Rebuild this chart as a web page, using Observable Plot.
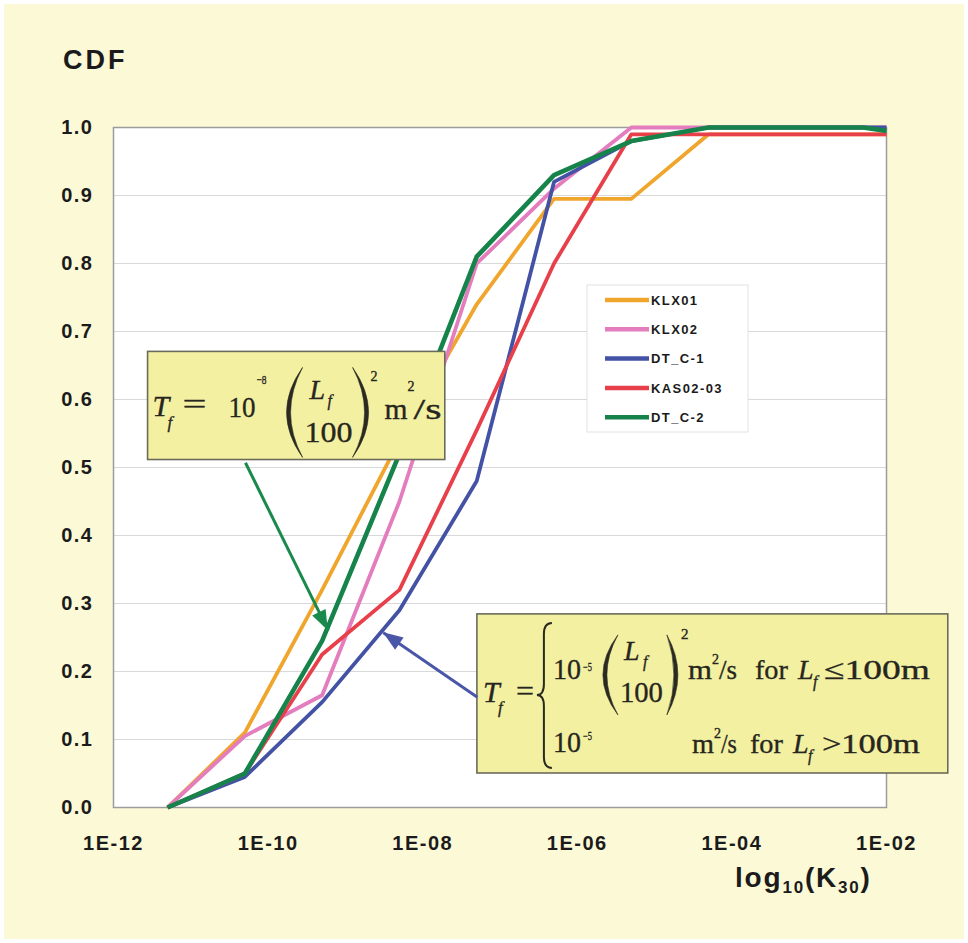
<!DOCTYPE html>
<html>
<head>
<meta charset="utf-8">
<script src="https://cdn.jsdelivr.net/npm/d3@7"></script>
<script src="https://cdn.jsdelivr.net/npm/@observablehq/plot@0.6"></script>
<style>
  html, body { margin: 0; padding: 0; background: #ffffff; }
  #wrap { position: relative; width: 968px; height: 943px; overflow: hidden; background: #ffffff; }
  #bg { position: absolute; left: 4px; top: 4px; width: 960px; height: 935px; background: #fcf9d7; }
  #chart { position: absolute; left: 0; top: 0; }
</style>
</head>
<body>
<div id="wrap"><div id="bg"></div><div id="chart"></div></div>
<script>
// ---------------- data ----------------
const kValues = [5e-12, 5e-11, 5e-10, 5e-9, 5e-8, 5e-7, 5e-6, 5e-5, 5e-4, 5e-3, 1e-2];
const seriesNames = ["KLX01", "KLX02", "DT_C-1", "KAS02-03", "DT_C-2"];
const seriesColors = ["#f0a62c", "#e37dbd", "#4352a4", "#e8404b", "#16834a"];
const seriesWidths = [3.8, 3.8, 3.8, 3.8, 4.6];
const klx01   = [0, 0.110, 0.320, 0.540, 0.740, 0.895, 0.895, 0.990, 0.990, 0.990, 0.990];
const klx02   = [0, 0.105, 0.165, 0.450, 0.800, 0.910, 1.000, 1.000, 1.000, 1.000, 1.000];
const dtc1    = [0, 0.045, 0.155, 0.290, 0.480, 0.920, 0.980, 1.000, 1.000, 1.000, 1.000];
const kas0203 = [0, 0.050, 0.225, 0.320, 0.555, 0.800, 0.990, 0.990, 0.990, 0.990, 0.990];
const dtc2    = [0, 0.050, 0.245, 0.520, 0.810, 0.930, 0.980, 1.000, 1.000, 1.000, 0.995];
const seriesValues = [klx01, klx02, dtc1, kas0203, dtc2];

const yTicks = [0, 0.1, 0.2, 0.3, 0.4, 0.5, 0.6, 0.7, 0.8, 0.9, 1.0];
const xTicks = [1e-12, 1e-10, 1e-8, 1e-6, 1e-4, 1e-2];
const xTickLabels = ["1E-12", "1E-10", "1E-08", "1E-06", "1E-04", "1E-02"];

const yTitle = "CDF";

// annotation boxes (data coordinates)
const boxX1 = [2.8e-12, 5.1e-8];
const boxX2 = [1.96e-8, 6.3e-2];
const boxY1 = [0.511, 0.050];
const boxY2 = [0.670, 0.284];

// annotation arrows (data coordinates)
const arrowFromX = [5.1e-11, 5.1e-8];
const arrowFromY = [0.507, 0.162];
const arrowToX = [6.0e-10, 3.1e-9];
const arrowToY = [0.260, 0.257];
const arrowColors = ["#1a8a4c", "#4a56a8"];

// ---------------- tables ----------------
const rows = seriesNames.flatMap((s, i) =>
  kValues.map((k, j) => ({series: s, k, cdf: seriesValues[i][j]})));
const boxes = boxX1.map((_, i) => ({x1: boxX1[i], x2: boxX2[i], y1: boxY1[i], y2: boxY2[i]}));
const arrows = arrowFromX.map((_, i) => ({x1: arrowFromX[i], y1: arrowFromY[i], x2: arrowToX[i], y2: arrowToY[i], c: arrowColors[i]}));

const W = 968, H = 943;

const chart = Plot.plot({
  width: W, height: H,
  marginLeft: 113, marginRight: 82, marginTop: 127, marginBottom: 136,
  style: {background: "transparent", overflow: "visible", fontFamily: "'Liberation Sans', Arial, sans-serif", letterSpacing: "1.5px", color: "#1b1b1b"},
  x: {type: "log", domain: [1e-12, 1e-2]},
  y: {domain: [0, 1]},
  color: {domain: seriesNames, range: seriesColors},
  marks: [
    Plot.frame({fill: "#ffffff", stroke: null}),
    Plot.gridY(yTicks.filter(d => d > 0 && d < 1), {stroke: "#d9d9d9", strokeOpacity: 1, strokeWidth: 1.2}),
    Plot.frame({stroke: "#9c9c9c", strokeWidth: 1.5}),
    Plot.axisY(yTicks, {tickSize: 0, tickPadding: 20, tickFormat: d => d.toFixed(1), fontSize: 20, fontWeight: "bold", label: null}),
    Plot.axisX(xTicks, {tickSize: 0, tickPadding: 28, tickFormat: d => xTickLabels[xTicks.indexOf(d)], fontSize: 20, fontWeight: "bold", label: null}),
    ...seriesNames.map((s, i) =>
      Plot.line(rows.filter(r => r.series === s), {x: "k", y: "cdf", stroke: "series", strokeWidth: seriesWidths[i], strokeLinejoin: "round", strokeLinecap: "butt"})),
    Plot.rect(boxes, {x1: "x1", x2: "x2", y1: "y1", y2: "y2", fill: "#f3f0a2", stroke: "#6b6b5c", strokeWidth: 1.6}),
    Plot.link(arrows, {x1: "x1", y1: "y1", x2: "x2", y2: "y2", stroke: "c", strokeWidth: 3})
  ]
});
document.getElementById("chart").appendChild(chart);

const svg = d3.select(chart);
const xs = chart.scale("x"), ys = chart.scale("y");
const px = v => xs.apply(v), py = v => ys.apply(v);

// filled arrow heads
arrows.forEach(a => {
  const x1 = px(a.x1), y1 = py(a.y1), x2 = px(a.x2), y2 = py(a.y2);
  const ang = Math.atan2(y2 - y1, x2 - x1);
  const L = 20, Wd = 7.5;
  const bx = x2 - L * Math.cos(ang), by = y2 - L * Math.sin(ang);
  const nx = -Math.sin(ang), ny = Math.cos(ang);
  svg.append("path")
    .attr("d", `M${x2},${y2}L${bx + nx * Wd},${by + ny * Wd}L${bx - nx * Wd},${by - ny * Wd}Z`)
    .attr("fill", a.c);
});

// titles
const tg = svg.append("g").attr("text-anchor", "start").attr("font-family", "'Liberation Sans', Arial, sans-serif").attr("font-weight", "bold").attr("fill", "#1b1b1b");
tg.append("text").attr("x", 63).attr("y", 69).attr("font-size", 27).style("letter-spacing", "3px").text(yTitle);
const xl = tg.append("text").attr("x", 735).attr("y", 887).attr("font-size", 28).style("letter-spacing", "1.8px");
xl.append("tspan").text("log");
xl.append("tspan").attr("font-size", 17).attr("dy", 6).text("10");
xl.append("tspan").attr("dy", -6).text("(K");
xl.append("tspan").attr("font-size", 17).attr("dy", 6).text("30");
xl.append("tspan").attr("dy", -6).text(")");

// legend
const lgX = 587, lgY = 285;
const lg = svg.append("g").attr("text-anchor", "start").attr("transform", `translate(${lgX},${lgY})`);
lg.append("rect").attr("width", 161).attr("height", 147).attr("fill", "#ffffff").attr("stroke", "#e2e2e2").attr("stroke-width", 1);
seriesNames.forEach((s, i) => {
  const yy = 15 + i * 29.3;
  lg.append("line").attr("x1", 18).attr("x2", 62).attr("y1", yy).attr("y2", yy)
    .attr("stroke", seriesColors[i]).attr("stroke-width", 4.5);
  lg.append("text").attr("x", 64).attr("y", yy).attr("dy", "0.36em")
    .attr("font-family", "'Liberation Sans', Arial, sans-serif").attr("font-weight", "bold")
    .attr("font-size", 13).style("letter-spacing", "1.4px").attr("fill", "#1b1b1b").text(s);
});

// formulas
function piece(g, txt, x, y, size, italic, len) {
  const t = g.append("text").attr("x", x).attr("y", y).attr("font-size", size).text(txt);
  if (italic) t.attr("font-style", "italic");
  if (len) t.attr("textLength", len).attr("lengthAdjust", "spacingAndGlyphs");
  return t;
}
function paren(g, xEnd, xCtrlOut, xCtrlIn, yTop, yBot) {
  const ym = (yTop + yBot) / 2;
  g.append("path").attr("d", `M${xEnd},${yTop}Q${xCtrlOut},${ym} ${xEnd},${yBot}Q${xCtrlIn},${ym} ${xEnd},${yTop}Z`)
    .attr("fill", "#2a2a22").attr("stroke", "#2a2a22").attr("stroke-width", 0.6);
}
const fg = svg.append("g").attr("text-anchor", "start").attr("font-family", "'Liberation Serif', 'Times New Roman', serif")
  .attr("fill", "#26261e").attr("stroke", "#26261e").attr("stroke-width", 0.35).style("letter-spacing", "0px");

// box 1
{
  const g = fg.append("g").attr("transform", `translate(${px(boxes[0].x1)},${py(boxes[0].y2)})`);
  piece(g, "T", 5, 65, 30, true);
  piece(g, "f", 20, 77, 17, true);
  piece(g, "=", 35, 62, 28, false, 24);
  piece(g, "10", 81, 66, 30, false, 27);
  piece(g, "\u22128", 109, 33, 13, false, 10);
  paren(g, 155, 123, 131, 16, 106);
  piece(g, "L", 162, 48, 28, true);
  piece(g, "f", 180, 55, 16, true);
  piece(g, "100", 157, 91, 29, false, 48);
  paren(g, 205, 237, 229, 16, 106);
  piece(g, "2", 223, 30, 14, false);
  piece(g, "m", 237, 68, 29, false, 23);
  piece(g, "2", 260, 40, 14, false);
  piece(g, "/s", 266, 68, 29, false, 28);
}
// box 2
{
  const g = fg.append("g").attr("transform", `translate(${px(boxes[1].x1)},${py(boxes[1].y2)})`);
  piece(g, "T", 6, 88, 30, true);
  piece(g, "f", 21, 99, 17, true);
  piece(g, "=", 39, 86, 28, false, 18);
  g.append("path").attr("d", "M75,9Q67,9 67,20L67,70Q67,81 60,81Q67,81 67,92L67,143Q67,154 75,154")
    .attr("fill", "none").attr("stroke", "#2a2a22").attr("stroke-width", 2);
  // row 1
  piece(g, "10", 76, 65, 29, false, 28);
  piece(g, "\u22125", 106, 57, 12, false, 9);
  paren(g, 141, 111, 119, 21, 101);
  piece(g, "L", 147, 46, 28, true);
  piece(g, "f", 166, 53, 16, true);
  piece(g, "100", 143, 88, 29, false, 43);
  paren(g, 190, 212, 204, 21, 101);
  piece(g, "2", 204, 25, 15, false);
  piece(g, "m", 211, 65, 28, false, 24);
  piece(g, "2", 235, 50, 14, false);
  piece(g, "/s", 242, 65, 28, false, 18);
  piece(g, "for", 278, 65, 28, false, 33);
  piece(g, "L", 321, 65, 28, true);
  piece(g, "f", 336, 73, 16, true);
  piece(g, "\u2264100m", 347, 65, 28, false, 106);
  // row 2
  piece(g, "10", 76, 138, 29, false, 28);
  piece(g, "\u22125", 106, 126, 12, false, 9);
  piece(g, "m", 215, 139, 28, false, 22);
  piece(g, "2", 237, 124, 14, false);
  piece(g, "/s", 244, 139, 28, false, 16);
  piece(g, "for", 273, 139, 28, false, 33);
  piece(g, "L", 316, 139, 28, true);
  piece(g, "f", 331, 147, 16, true);
  piece(g, ">100m", 345, 139, 28, false, 98);
}
</script>
</body>
</html>
